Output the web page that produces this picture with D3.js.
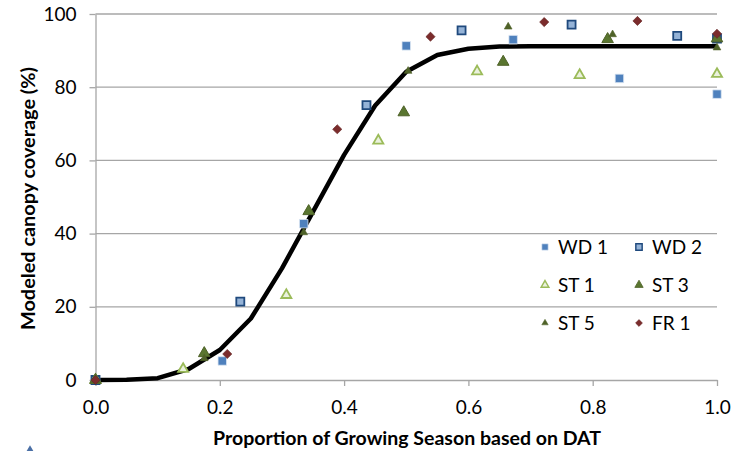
<!DOCTYPE html>
<html>
<head>
<meta charset="utf-8">
<script src="https://cdn.jsdelivr.net/npm/d3@7"></script>
<style>
  body { margin: 0; background: #fff; }
  text { font-family: Lato, "Open Sans", sans-serif; fill: #000; }
</style>
</head>
<body>
<div id="chart"></div>
<script>
// fitted model line
var modelX = [0, 0.05, 0.1, 0.15, 0.2, 0.25, 0.3, 0.35, 0.4, 0.45, 0.5, 0.55, 0.6, 0.65, 0.7, 0.75, 0.8, 0.85, 0.9, 0.95, 1.0];
var modelY = [0, 0.1, 0.5, 3.0, 8.2, 16.8, 30.5, 46, 61.5, 75, 84.2, 88.8, 90.5, 91.1, 91.2, 91.2, 91.2, 91.2, 91.2, 91.2, 91.2];

// observed points
var wd1X = [0, 0.204, 0.335, 0.5, 0.672, 0.843, 1.0];
var wd1Y = [0, 5.2, 42.7, 91.3, 93.0, 82.4, 78.1];
var wd2X = [0, 0.233, 0.436, 0.589, 0.766, 0.936, 1.0];
var wd2Y = [0, 21.4, 75.1, 95.5, 97.1, 94.0, 93.3];
var st1X = [0, 0.141, 0.307, 0.455, 0.614, 0.779, 1.0];
var st1Y = [0, 3.0, 23.2, 65.4, 84.3, 83.3, 83.6];
var st3X = [0, 0.175, 0.343, 0.496, 0.656, 0.824, 1.0];
var st3Y = [0, 7.3, 46.1, 73.1, 86.9, 93.1, 93.3];
var st5X = [0, 0.175, 0.335, 0.503, 0.664, 0.832, 1.0];
var st5Y = [0, 5.9, 40.3, 84.4, 96.5, 94.4, 90.8];
var fr1X = [0, 0.212, 0.389, 0.539, 0.722, 0.872, 1.0];
var fr1Y = [0, 7.1, 68.5, 93.8, 97.8, 98.1, 94.6];

var xTicks = [0, 0.2, 0.4, 0.6, 0.8, 1.0];
var yTicks = [0, 20, 40, 60, 80, 100];

var width = 743, height = 451;

var svg = d3.select("#chart")
  .append("svg")
    .attr("width", width)
    .attr("height", height);

svg.append("rect").attr("width", width).attr("height", height).attr("fill", "#fff");

var x = d3.scaleLinear().domain([0, 1]).range([95.5, 717]);
var y = d3.scaleLinear().domain([0, 100]).range([380, 14]);

var grey = "#a6a6a6";

// gridlines
svg.append("g")
  .selectAll("line")
  .data(yTicks.slice(1))
  .join("line")
    .attr("x1", x(0)).attr("x2", x(1))
    .attr("y1", d => y(d)).attr("y2", d => y(d))
    .attr("stroke", grey).attr("stroke-width", 1.3);

// Y axis
var yAxis = svg.append("g")
  .attr("transform", "translate(" + x(0) + ",0)")
  .call(d3.axisLeft(y).tickValues(yTicks).tickSize(6).tickSizeOuter(0).tickPadding(13).tickFormat(d3.format("d")));

// X axis
var xAxis = svg.append("g")
  .attr("transform", "translate(0," + y(0) + ")")
  .call(d3.axisBottom(x).tickValues(xTicks).tickSize(6).tickSizeOuter(0).tickPadding(15).tickFormat(d3.format(".1f")));

[yAxis, xAxis].forEach(function(a) {
  a.select(".domain").attr("stroke", grey).attr("stroke-width", 1.3);
  a.selectAll(".tick line").attr("stroke", grey).attr("stroke-width", 1.3);
  a.selectAll(".tick text").attr("font-size", "19px").attr("font-family", "Lato, sans-serif").attr("fill", "#000");
});

// model line
svg.append("path")
  .datum(d3.zip(modelX, modelY))
  .attr("fill", "none")
  .attr("stroke", "#000")
  .attr("stroke-width", 4.5)
  .attr("stroke-linejoin", "round")
  .attr("d", d3.line().x(d => x(d[0])).y(d => y(d[1])));

// marker styles (FR 1 is a square turned 45 degrees)
var series = [
  { name: "WD 1", xs: wd1X, ys: wd1Y, type: d3.symbolSquare, rot: 0, size: 72, lsize: 40, fill: "#4f81bd", stroke: "#dce6f2", sw: 0.8 },
  { name: "WD 2", xs: wd2X, ys: wd2Y, type: d3.symbolSquare, rot: 0, size: 64, lsize: 40, fill: "#95b3d7", stroke: "#1f497d", sw: 1.8 },
  { name: "ST 1", xs: st1X, ys: st1Y, type: d3.symbolTriangle, rot: 0, size: 44, lsize: 26, fill: "#eaf1dd", stroke: "#9bbb59", sw: 1.8 },
  { name: "ST 3", xs: st3X, ys: st3Y, type: d3.symbolTriangle, rot: 0, size: 58, lsize: 30, fill: "#5a7630", stroke: "#4f6228", sw: 1 },
  { name: "ST 5", xs: st5X, ys: st5Y, type: d3.symbolTriangle, rot: 0, size: 26, lsize: 18, fill: "#4f6228", stroke: "#4f6228", sw: 0.6 },
  { name: "FR 1", xs: fr1X, ys: fr1Y, type: d3.symbolSquare, rot: 45, size: 42, lsize: 24, fill: "#7b2c2c", stroke: "#632423", sw: 0.6 }
];

series.forEach(function(s) {
  svg.append("g")
    .selectAll("path")
    .data(d3.zip(s.xs, s.ys))
    .join("path")
      .attr("transform", d => "translate(" + x(d[0]) + "," + y(d[1]) + ") rotate(" + s.rot + ")")
      .attr("d", d3.symbol().type(s.type).size(s.size))
      .attr("fill", s.fill)
      .attr("stroke", s.stroke)
      .attr("stroke-width", s.sw);
});

// legend
var legend = svg.append("g");
series.forEach(function(s, i) {
  var col = i % 2, row = Math.floor(i / 2);
  var lx = 545 + col * 94, ly = 247 + row * 38;
  legend.append("path")
    .attr("transform", "translate(" + lx + "," + ly + ") rotate(" + s.rot + ")")
    .attr("d", d3.symbol().type(s.type).size(s.lsize))
    .attr("fill", s.fill)
    .attr("stroke", s.stroke)
    .attr("stroke-width", s.sw * 0.8);
  legend.append("text")
    .attr("x", lx + 13)
    .attr("y", ly)
    .attr("dy", "0.35em")
    .attr("font-size", "19px")
    .text(s.name);
});

// axis titles
svg.append("text")
  .attr("x", 407)
  .attr("y", 445)
  .attr("text-anchor", "middle")
  .attr("font-size", "18px")
  .attr("font-weight", "bold")
  .attr("textLength", 388)
  .attr("lengthAdjust", "spacingAndGlyphs")
  .text("Proportion of Growing Season based on DAT");

svg.append("text")
  .attr("transform", "translate(35,198.5) rotate(-90)")
  .attr("text-anchor", "middle")
  .attr("font-size", "19px")
  .attr("font-weight", "bold")
  .attr("textLength", 263)
  .attr("lengthAdjust", "spacingAndGlyphs")
  .text("Modeled canopy coverage (%)");

// clipped marker peeking in at the bottom-left edge
svg.append("path")
  .attr("transform", "translate(30,452)")
  .attr("d", d3.symbol().type(d3.symbolTriangle).size(60))
  .attr("fill", "#4a6fa5");
</script>
</body>
</html>
